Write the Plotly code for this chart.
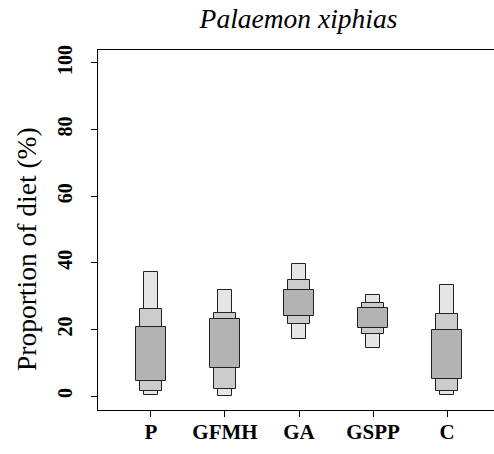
import plotly.graph_objects as go

# Diet sources and posterior credible-interval bounds (%), Palaemon xiphias
sources = ["P", "GFMH", "GA", "GSPP", "C"]

ci95_low = [0.2, 0.1, 17.0, 14.4, 0.2]
ci95_high = [37.1, 31.8, 39.5, 30.3, 33.2]
ci75_low = [1.4, 2.0, 21.6, 18.6, 1.4]
ci75_high = [26.2, 24.8, 34.7, 28.0, 24.5]
ci50_low = [4.6, 8.5, 24.0, 20.5, 5.0]
ci50_high = [20.6, 23.0, 31.7, 26.4, 19.8]

y_ticks = [0, 20, 40, 60, 80, 100]

positions = list(range(1, len(sources) + 1))

fig = go.Figure()

# interval layers: outermost (narrow, light) drawn first, innermost (wide, dark) last
layers = [
    (ci95_low, ci95_high, 0.2, "#e5e5e5"),
    (ci75_low, ci75_high, 0.3, "#cccccc"),
    (ci50_low, ci50_high, 0.4, "#b3b3b3"),
]
for lo, hi, w, col in layers:
    fig.add_trace(go.Bar(
        x=positions,
        y=[h - l for l, h in zip(lo, hi)],
        base=lo,
        width=w,
        marker=dict(color=col, line=dict(color="#222222", width=1)),
        hoverinfo="skip",
        showlegend=False,
    ))

serif = "Times New Roman, Times, serif"
W, H = 494, 454

fig.update_layout(
    width=W,
    height=H,
    margin=dict(l=98, r=0, t=50, b=44),
    paper_bgcolor="white",
    plot_bgcolor="white",
    barmode="overlay",
    bargap=0,
    font=dict(family=serif, color="black"),
    title=dict(
        text="Palaemon xiphias",
        font=dict(family=serif, size=27.5, color="black", style="italic"),
        x=(98 + 499) / 2 / W,
        xanchor="center",
        y=1 - 18 / H,
        yanchor="middle",
    ),
)

# y-axis title placed as a rotated annotation
fig.add_annotation(
    text="Proportion of diet (%)",
    textangle=-90,
    xref="paper", yref="paper",
    x=(26 - 98) / (W - 98),
    y=(410 - 249) / 360,
    xanchor="center", yanchor="middle",
    showarrow=False,
    font=dict(family=serif, size=27.5, color="black"),
)

fig.update_xaxes(
    range=[0.284, 5.635],
    tickmode="array",
    tickvals=positions,
    ticktext=sources,
    tickfont=dict(family=serif, size=21, color="black", weight="bold"),
    ticks="outside",
    ticklen=6,
    tickcolor="black",
    ticklabelstandoff=-3,
    showline=True,
    linecolor="black",
    linewidth=1,
    mirror=True,
    showgrid=False,
    zeroline=False,
)

fig.update_yaxes(
    range=[-4.2, 103.9],
    tickmode="array",
    tickvals=y_ticks,
    ticktext=[str(v) for v in y_ticks],
    tickfont=dict(family=serif, size=20, color="black", weight="bold"),
    tickangle=-90,
    ticks="outside",
    ticklen=6,
    tickcolor="black",
    ticklabelstandoff=11,
    showline=True,
    linecolor="black",
    linewidth=1,
    showgrid=False,
    zeroline=False,
)

fig.write_html("out.html")
